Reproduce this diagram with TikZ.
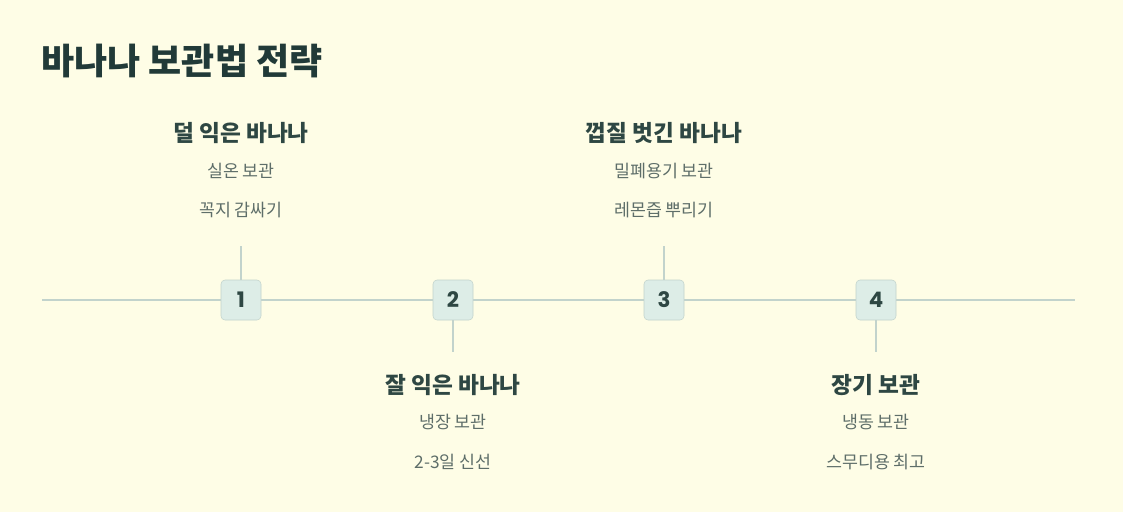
\documentclass[tikz,border=0pt]{standalone}
\usepackage{fontspec}
\setmainfont{Noto Sans CJK KR}
\newfontfamily\numfont{Poppins}
\usetikzlibrary{calc}
\definecolor{bgcream}{HTML}{FEFDE6}
\definecolor{titlecol}{HTML}{213A38}
\definecolor{headcol}{HTML}{2E4743}
\definecolor{subcol}{HTML}{5E6E69}
\definecolor{linecol}{HTML}{C2D3CC}
\definecolor{boxfill}{HTML}{DDEDE7}
\tikzset{
  stepbox/.style={draw=linecol, fill=boxfill, rounded corners=3pt, minimum width=30pt, minimum height=30pt, inner sep=0pt, font=\numfont\bfseries\fontsize{16}{16}\selectfont, text=headcol},
  head/.style={font=\bfseries\fontsize{17}{17}\selectfont, text=headcol},
  sub/.style={font=\fontsize{13}{13}\selectfont, text=subcol},
  link/.style={draw=linecol, line width=1.5pt}
}
\begin{document}
\begin{tikzpicture}[x=0.75pt,y=-0.75pt]
      \fill[bgcream] (0,0) rectangle (1123,512);
      \useasboundingbox (0,0) rectangle (1123,512);
      \node[anchor=base west, font=\bfseries\fontsize{27}{27}\selectfont, text=titlecol, inner sep=0pt] (title) at (41,74) {바나나 보관법 전략};
      \coordinate (start) at (42,300);
      \coordinate (end) at (1075,300);
      \draw[link] (start) -- (end);
      \node[stepbox] (n1) at (241,300) {1};
      \node[stepbox] (n2) at (453,300) {2};
      \node[stepbox] (n3) at (664,300) {3};
      \node[stepbox] (n4) at (876,300) {4};
      \coordinate (c1) at (241,246);
      \coordinate (c2) at (453,352);
      \coordinate (c3) at (664,246);
      \coordinate (c4) at (876,352);
      \draw[link] (n1.north) -- (c1);
      \draw[link] (n2.south) -- (c2);
      \draw[link] (n3.north) -- (c3);
      \draw[link] (n4.south) -- (c4);
      % stage 1
      \node[head] (h1) at (241,133) {덜 익은 바나나};
      \node[sub] (s1a) at (241,171) {실온 보관};
      \node[sub] (s1b) at (241,210) {꼭지 감싸기};
      % stage 2
      \node[head] (h2) at (453,385) {잘 익은 바나나};
      \node[sub] (s2a) at (453,422) {냉장 보관};
      \node[sub] (s2b) at (453,462) {2-3일 신선};
      % stage 3
      \node[head] (h3) at (664,133) {껍질 벗긴 바나나};
      \node[sub] (s3a) at (664,171) {밀폐용기 보관};
      \node[sub] (s3b) at (664,210) {레몬즙 뿌리기};
      % stage 4
      \node[head] (h4) at (876,385) {장기 보관};
      \node[sub] (s4a) at (876,422) {냉동 보관};
      \node[sub] (s4b) at (876,462) {스무디용 최고};
\end{tikzpicture}
\end{document}
